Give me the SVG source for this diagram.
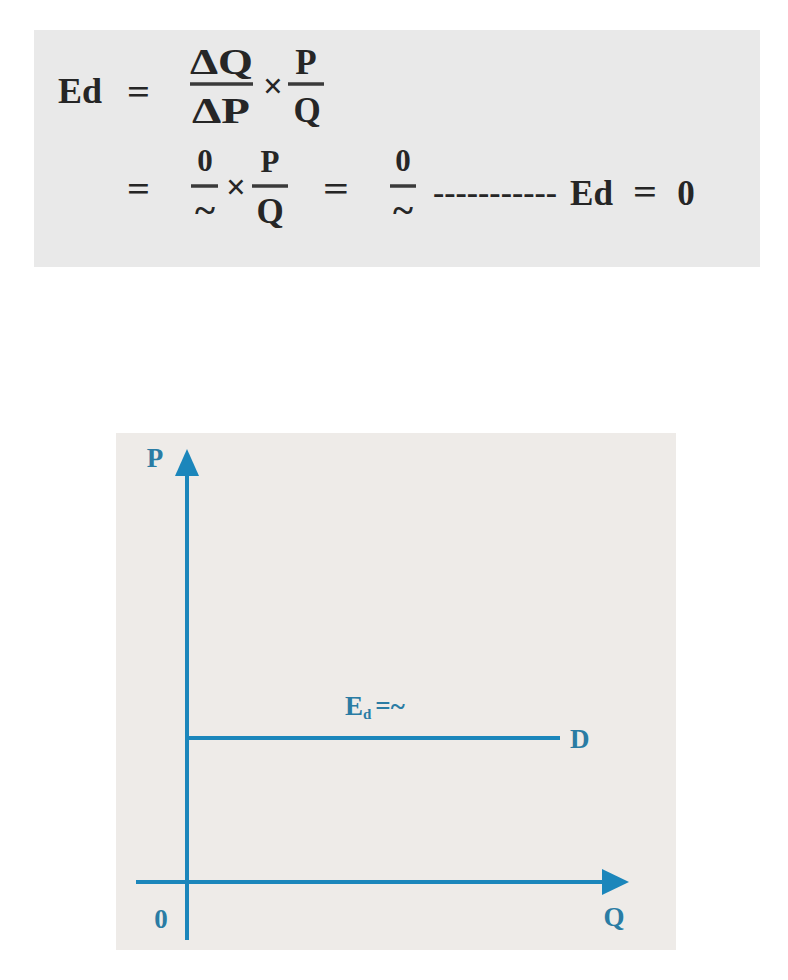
<svg xmlns="http://www.w3.org/2000/svg" width="788" height="980" viewBox="0 0 788 980">
<defs>
<style>
.f{font-family:"Liberation Serif","DejaVu Serif",serif;font-size:35px;font-weight:bold;fill:#262626;}
.s{font-size:31px;}
.c{text-anchor:middle;}
.bar{stroke:#3a3a3a;stroke-width:3.5;}
.ax{stroke:#1b86bb;stroke-width:4;fill:none;}
.ah{fill:#1b86bb;}
.lb{font-family:"Liberation Serif","DejaVu Serif",serif;font-size:27px;fill:#2a7ca4;font-weight:bold;}
</style>
</defs>
<rect width="788" height="980" fill="#ffffff"/>
<g id="formula">
<rect x="34" y="30" width="726" height="237" fill="#e9e9e9"/>
<text class="f" x="58" y="103" textLength="44" lengthAdjust="spacingAndGlyphs">Ed</text>
<text class="f" x="127" y="104" textLength="23" lengthAdjust="spacingAndGlyphs">=</text>
<text class="f" x="190" y="74" textLength="63" lengthAdjust="spacingAndGlyphs">ΔQ</text>
<line class="bar" x1="190" y1="84" x2="253" y2="84"/>
<text class="f" x="192" y="123" textLength="58" lengthAdjust="spacingAndGlyphs">ΔP</text>
<text class="f c" x="273" y="98">×</text>
<text class="f c" x="306" y="74">P</text>
<line class="bar" x1="288" y1="84" x2="324" y2="84"/>
<text class="f c" x="307" y="122" font-size="37">Q</text>
<text class="f" x="127" y="201" textLength="23" lengthAdjust="spacingAndGlyphs">=</text>
<text class="f s c" x="205" y="171">0</text>
<line class="bar" x1="191" y1="186" x2="218" y2="186"/>
<text class="f" x="195" y="222" font-size="34" textLength="20" lengthAdjust="spacingAndGlyphs">~</text>
<text class="f c" x="236" y="199">×</text>
<text class="f s c" x="270" y="172">P</text>
<line class="bar" x1="252" y1="186" x2="288" y2="186"/>
<text class="f c" x="270" y="223" font-size="34">Q</text>
<text class="f" x="323" y="201" textLength="26" lengthAdjust="spacingAndGlyphs">=</text>
<text class="f s c" x="403" y="171">0</text>
<line class="bar" x1="390" y1="186" x2="416" y2="186"/>
<text class="f" x="393" y="222" font-size="34" textLength="20" lengthAdjust="spacingAndGlyphs">~</text>
<text class="f s" x="433" y="203" textLength="124" lengthAdjust="spacingAndGlyphs">-----------</text>
<text class="f" x="570" y="205" textLength="43" lengthAdjust="spacingAndGlyphs">Ed</text>
<text class="f" x="633" y="204" textLength="24" lengthAdjust="spacingAndGlyphs">=</text>
<text class="f c" x="686" y="205">0</text>
</g>
<g id="panel">
<rect x="116" y="433" width="560" height="517" fill="#eeebe8"/>
</g>
<g id="connectors">
<line class="ax" x1="187" y1="940" x2="187" y2="470"/>
<polygon class="ah" points="175,476 199,476 187,449"/>
<line class="ax" x1="136" y1="882" x2="606" y2="882"/>
<polygon class="ah" points="602,869 602,895 629,882"/>
<line class="ax" x1="187" y1="738" x2="560" y2="738"/>
</g>
<g id="labels">
<text class="lb" x="155" y="467" text-anchor="middle">P</text>
<text class="lb" x="161" y="928" text-anchor="middle">0</text>
<text class="lb" x="614" y="926" text-anchor="middle">Q</text>
<text class="lb" x="570" y="748">D</text>
<text class="lb" x="345" y="715" font-size="25">E<tspan font-size="15" dy="4">d</tspan><tspan dy="-4" dx="4">=~</tspan></text>
</g>
</svg>
